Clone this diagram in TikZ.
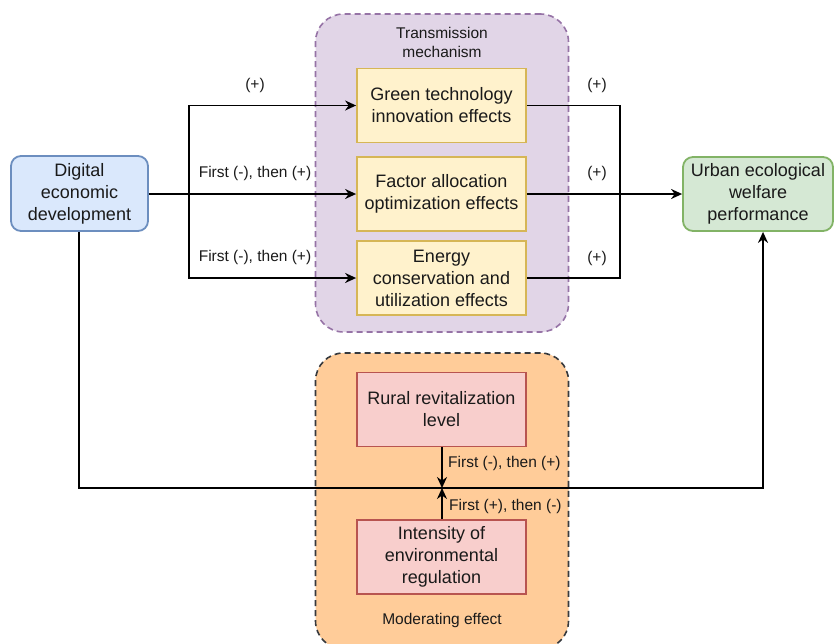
\documentclass[tikz,border=0pt]{standalone}
\usepackage{fontspec}
\setmainfont{Liberation Sans}
\usetikzlibrary{arrows.meta}
\definecolor{purfill}{HTML}{E1D5E7}
\definecolor{purline}{HTML}{9673A6}
\definecolor{orfill}{HTML}{FFCC99}
\definecolor{orline}{HTML}{36393D}
\definecolor{yelfill}{HTML}{FFF2CC}
\definecolor{yelline}{HTML}{D6B656}
\definecolor{redfill}{HTML}{F8CECC}
\definecolor{redline}{HTML}{B85450}
\definecolor{bluefill}{HTML}{DAE8FC}
\definecolor{blueline}{HTML}{6C8EBF}
\definecolor{grnfill}{HTML}{D5E8D4}
\definecolor{grnline}{HTML}{82B366}
\definecolor{txt}{HTML}{1A1A1A}
\begin{document}
\begin{tikzpicture}[x=1pt,y=-1pt,
  box/.style={draw, line width=1.8pt, align=center, inner sep=0pt, text=txt,
    font=\fontsize{18}{22}\selectfont, minimum width=169pt, minimum height=74pt},
  container/.style={draw, dash pattern=on 6pt off 4pt, line width=1.6pt, rounded corners=28pt,
    minimum width=253pt, inner sep=0pt},
  lbl/.style={font=\fontsize{15.5}{19}\selectfont, inner sep=0pt, text=txt},
  conn/.style={line width=1.8pt, draw=black},
  arr/.style={conn, -{Stealth[length=11pt,width=10pt]}}]
\clip (0,0) rectangle (834,643);
\useasboundingbox (0,0) rectangle (834,643);
% containers
\node[container, fill=purfill, draw=purline, minimum height=318pt] (trans) at (442,173) {};
\node[lbl, align=center] (transT) at (442,42) {Transmission\\mechanism};
\node[container, fill=orfill, draw=orline, minimum height=296pt] (moder) at (442,501) {};
\node[lbl] (moderT) at (442,620) {Moderating effect};
% main boxes
\node[box, fill=bluefill, draw=blueline, rounded corners=10pt, minimum width=137pt, minimum height=75pt] (dig) at (79.5,193.5) {Digital\\economic\\development};
\node[box, fill=grnfill, draw=grnline, rounded corners=10pt, minimum width=150pt, minimum height=74pt] (urban) at (758,194) {Urban ecological\\welfare\\performance};
\node[box, fill=yelfill, draw=yelline] (green) at (441.5,105.5) {Green technology\\innovation effects};
\node[box, fill=yelfill, draw=yelline] (fac) at (441.5,194) {Factor allocation\\optimization effects};
\node[box, fill=yelfill, draw=yelline] (energy) at (441.5,278) {Energy\\conservation and\\utilization effects};
\node[box, fill=redfill, draw=redline] (rural) at (441.5,409.5) {Rural revitalization\\level};
\node[box, fill=redfill, draw=redline] (inten) at (441.5,557) {Intensity of\\environmental\\regulation};
% connectors left
\coordinate (bx) at (189,194);
\draw[arr] (dig.east |- fac.west) -- (fac.west);
\draw[arr] (bx) |- (green.west);
\draw[arr] (bx) |- (energy.west);
\node[lbl] (l1) at (255,85) {(+)};
\node[lbl] (l2) at (255,173) {First (-), then (+)};
\node[lbl] (l3) at (255,257) {First (-), then (+)};
% connectors right
\coordinate (rx) at (620,194);
\draw[conn] (green.east) -- (green.east -| rx) -- (energy.east -| rx) -- (energy.east);
\draw[arr] (fac.east) -- (urban.west |- fac.east);
\node[lbl] (r1) at (597,85) {(+)};
\node[lbl] (r2) at (597,173) {(+)};
\node[lbl] (r3) at (597,258) {(+)};
% bottom loop
\coordinate (bl) at (79,488);
\coordinate (br) at (763,488);
\coordinate (mx) at (442,488);
\draw[arr] (dig.south -| bl) -- (bl) -- (br) -- (br |- urban.south);
\draw[arr] (rural.south -| mx) -- (mx);
\draw[arr] (inten.north -| mx) -- (mx);
\node[lbl, anchor=west] (m1) at (448,463) {First (-), then (+)};
\node[lbl, anchor=west] (m2) at (449,506) {First (+), then (-)};
\end{tikzpicture}
\end{document}
